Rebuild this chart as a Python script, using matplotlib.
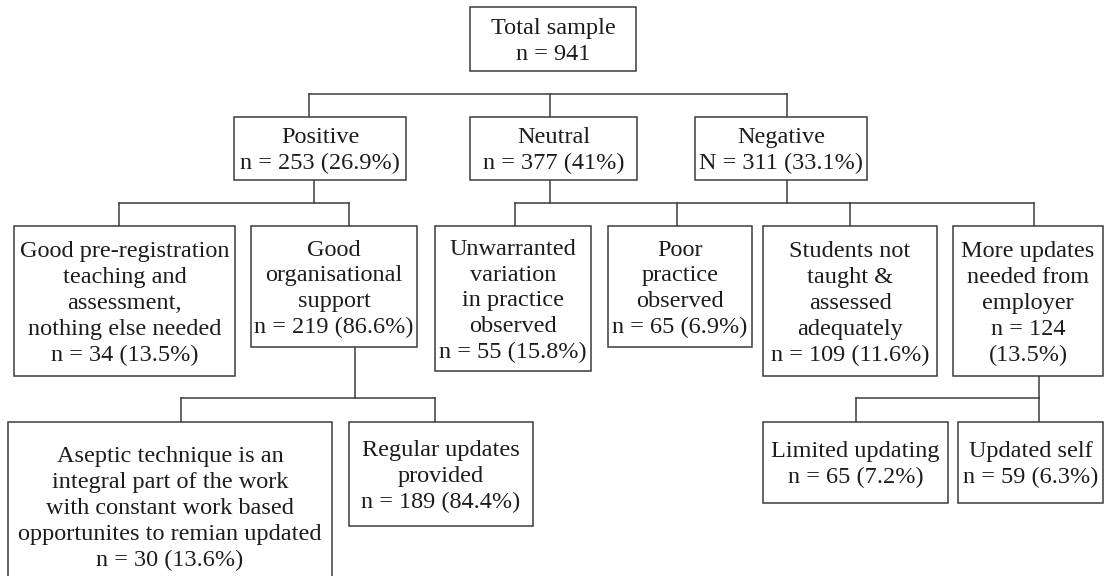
import matplotlib
matplotlib.use("Agg")
import matplotlib.pyplot as plt
from matplotlib.patches import Rectangle

# ---------------- data ----------------
node_ids = ["total", "pos", "neu", "neg", "pre", "org", "unw", "poor",
            "stud", "more", "asep", "reg", "lim", "self"]
node_titles = [
    "Total sample",
    "Positive",
    "Neutral",
    "Negative",
    "Good pre-registration\nteaching and\nassessment,\nnothing else needed",
    "Good\norganisational\nsupport",
    "Unwarranted\nvariation\nin practice\nobserved",
    "Poor\npractice\nobserved",
    "Students not\ntaught &\nassessed\nadequately",
    "More updates\nneeded from\nemployer",
    "Aseptic technique is an\nintegral part of the work\nwith constant work based\nopportunites to remian updated",
    "Regular updates\nprovided",
    "Limited updating",
    "Updated self",
]
node_counts = [941, 253, 377, 311, 34, 219, 55, 65, 109, 124, 30, 189, 65, 59]
node_percents = [None, "26.9", "41", "33.1", "13.5", "86.6", "15.8", "6.9",
                 "11.6", "13.5", "13.6", "84.4", "7.2", "6.3"]
count_symbols = ["n", "n", "n", "N", "n", "n", "n", "n", "n", "n", "n", "n", "n", "n"]
percent_on_new_line = ["more"]

# ---------------- layout (pixels) ----------------
box_xy = {
    "total": (470, 7, 636, 71),
    "pos": (234, 117, 406, 180),
    "neu": (470, 117, 637, 180),
    "neg": (695, 117, 867, 180),
    "pre": (14, 226, 235, 376),
    "org": (251, 226, 417, 347),
    "unw": (435, 226, 591, 371),
    "poor": (608, 226, 752, 347),
    "stud": (763, 226, 937, 376),
    "more": (953, 226, 1103, 376),
    "asep": (8, 422, 332, 590),
    "reg": (349, 422, 533, 526),
    "lim": (763, 422, 948, 503),
    "self": (958, 422, 1103, 503),
}
connectors = [
    dict(bus_y=94, parents=[], drops=[309, 550, 787], child_top=117),
    dict(bus_y=203, parents=[(314, 180)], drops=[119, 349], child_top=226),
    dict(bus_y=203, parents=[(550, 180), (787, 180)], drops=[515, 677, 850, 1033.5], child_top=226),
    dict(bus_y=398, parents=[(354.5, 347)], drops=[181, 435], child_top=422),
    dict(bus_y=398, parents=[(1039, 376)], drops=[856, 1039], child_top=422),
]

W, H = 1104, 576
line_col = "#3c3c3c"
text_col = "#1c1c1c"
lw = 1.1

fig = plt.figure(figsize=(W / 100, H / 100), dpi=100)
ax = fig.add_axes([0, 0, 1, 1])
ax.set_xlim(0, W)
ax.set_ylim(H, 0)
ax.axis("off")

for i, nid in enumerate(node_ids):
    x0, y0, x1, y1 = box_xy[nid]
    ax.add_patch(Rectangle((x0, y0), x1 - x0, y1 - y0, facecolor="white",
                           edgecolor=line_col, linewidth=lw, zorder=2))
    if node_percents[i] is None:
        count_txt = f"{count_symbols[i]} = {node_counts[i]}"
    elif nid in percent_on_new_line:
        count_txt = f"{count_symbols[i]} = {node_counts[i]}\n({node_percents[i]}%)"
    else:
        count_txt = f"{count_symbols[i]} = {node_counts[i]} ({node_percents[i]}%)"
    label = node_titles[i] + "\n" + count_txt
    ax.text((x0 + x1) / 2, (y0 + y1) / 2 + 2.5, label, ha="center", va="center",
            fontsize=17.5, family="Liberation Serif", color=text_col,
            linespacing=1.3, zorder=3)

for c in connectors:
    xs = [p[0] for p in c["parents"]] + c["drops"]
    ax.plot([min(xs), max(xs)], [c["bus_y"], c["bus_y"]], color=line_col, lw=lw,
            solid_capstyle="projecting", zorder=1)
    for px, py in c["parents"]:
        ax.plot([px, px], [py, c["bus_y"]], color=line_col, lw=lw, zorder=1)
    for dx in c["drops"]:
        ax.plot([dx, dx], [c["bus_y"], c["child_top"]], color=line_col, lw=lw, zorder=1)

fig.savefig("out.png", dpi=100, facecolor="white")
